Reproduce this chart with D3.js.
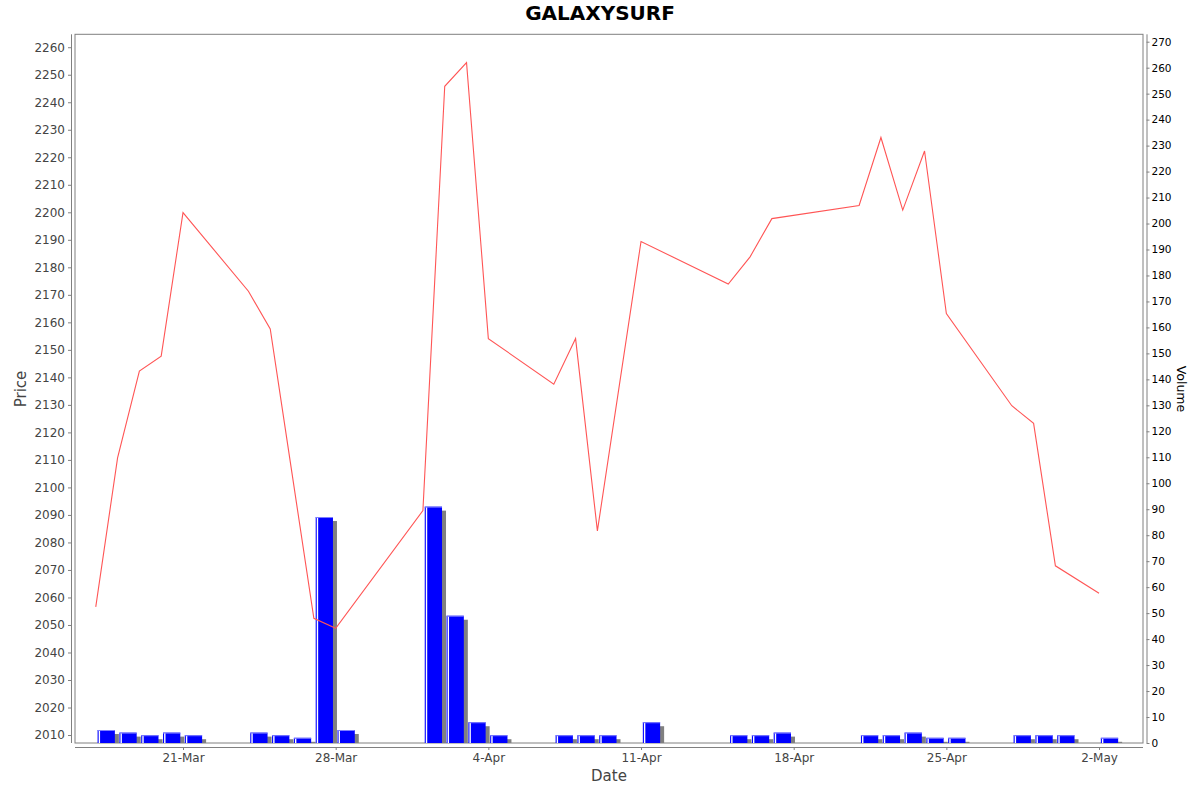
<!DOCTYPE html>
<html>
<head>
<meta charset="utf-8">
<script src="https://cdn.jsdelivr.net/npm/d3@7"></script>
<style>
body{margin:0;background:#fff;}
text{font-family:"DejaVu Sans",sans-serif;}
</style>
</head>
<body>
<div id="chart"></div>
<script>

// datos
const fechas = ["2025-03-17","2025-03-18","2025-03-19","2025-03-20","2025-03-21",
"2025-03-24","2025-03-25","2025-03-26","2025-03-27","2025-03-28",
"2025-04-01","2025-04-02","2025-04-03","2025-04-04",
"2025-04-07","2025-04-08","2025-04-09","2025-04-11",
"2025-04-15","2025-04-16","2025-04-17",
"2025-04-21","2025-04-22","2025-04-23","2025-04-24","2025-04-25",
"2025-04-28","2025-04-29","2025-04-30","2025-05-02"];

const precios = [2056.6,2110.7,2142.3,2147.7,2199.9,
2171.3,2157.6,2105.0,2052.4,2048.8,
2091.6,2245.8,2254.4,2154.1,
2137.5,2154.1,2084.2,2189.4,
2173.9,2183.8,2197.7,
2202.5,2227.2,2200.8,2222.3,2163.2,
2129.7,2123.3,2071.5,2061.5];

const volumenes = [5,4,3,4,3,
4,3,2,87,5,
91,49,8,3,
3,3,3,8,
3,3,4,
3,3,4,2,2,
3,3,3,2];

const ticksFecha = ["2025-03-21","2025-03-28","2025-04-04","2025-04-11","2025-04-18","2025-04-25","2025-05-02"];

const titulo = "GALAXYSURF";


const width = 1200;
const height = 792;

const izq = 75, der = 1143, arriba = 34.3, abajo = 743;

const parse = d3.utcParse("%Y-%m-%d");
const DIA = 864e5;

const datos = fechas.map((f,i)=>({
fecha: parse(f),
precio: precios[i],
volumen: volumenes[i]
}));

const svg = d3.select("#chart")
.append("svg")
.attr("width",width)
.attr("height",height);

const x = d3.scaleUtc()
.domain([
new Date(parse("2025-03-21").getTime() - 4.952*DIA),
new Date(parse("2025-03-21").getTime() + 44.016*DIA)
])
.range([izq,der]);

const yP = d3.scaleLinear()
.domain([2007.1,2264.7])
.range([abajo,arriba]);

const yV = d3.scaleLinear()
.domain([0,272.85])
.range([abajo,arriba]);

svg.append("clipPath")
.attr("id","clip")
.append("rect")
.attr("x",izq)
.attr("y",arriba)
.attr("width",der-izq)
.attr("height",abajo-arriba);

// borde del area
svg.append("rect")
.attr("x",izq)
.attr("y",arriba)
.attr("width",der-izq)
.attr("height",abajo-arriba)
.attr("fill","white")
.attr("stroke","#808080")
.attr("stroke-width",1);

const plot = svg.append("g").attr("clip-path","url(#clip)");

// BARRAS volumen
const bx = d=>x(new Date(d.fecha.getTime()+0.083*DIA));
const bw = d=>x(new Date(d.fecha.getTime()+0.876*DIA)) - bx(d);

// sombra
plot.selectAll(".sombra")
.data(datos)
.enter()
.append("rect")
.attr("x",d=>bx(d)+4)
.attr("y",d=>yV(d.volumen)+4)
.attr("width",bw)
.attr("height",d=>abajo-yV(d.volumen))
.attr("fill","#808080");

plot.selectAll(".barra")
.data(datos)
.enter()
.append("rect")
.attr("x",bx)
.attr("y",d=>yV(d.volumen))
.attr("width",bw)
.attr("height",d=>abajo-yV(d.volumen))
.attr("fill","#0000ff");

// brillo blanco
plot.selectAll(".brillo")
.data(datos)
.enter()
.append("line")
.attr("x1",d=>bx(d)+1.8)
.attr("x2",d=>bx(d)+1.8)
.attr("y1",d=>yV(d.volumen)+0.5)
.attr("y2",abajo)
.attr("stroke","white")
.attr("stroke-width",1.4);

plot.selectAll(".tope")
.data(datos)
.enter()
.append("line")
.attr("x1",d=>bx(d))
.attr("x2",d=>bx(d)+bw(d))
.attr("y1",d=>yV(d.volumen)+0.5)
.attr("y2",d=>yV(d.volumen)+0.5)
.attr("stroke","#7f7fff")
.attr("stroke-width",1);

// LINEA precio
const linea = d3.line()
.x(d=>x(d.fecha))
.y(d=>yP(d.precio));

plot.append("path")
.datum(datos)
.attr("d",linea)
.attr("fill","none")
.attr("stroke","#ff5555")
.attr("stroke-width",1.1);

// EJES
const ejeX = svg.append("g")
.attr("transform","translate(0,747)")
.call(
d3.axisBottom(x)
.tickValues(ticksFecha.map(parse))
.tickFormat(d3.utcFormat("%-d-%b"))
.tickSize(3)
.tickPadding(3)
);

ejeX.select(".domain").attr("d","M"+izq+",0.5H"+der).attr("stroke","#808080");

const ejeP = svg.append("g")
.attr("transform","translate(71,0)")
.call(
d3.axisLeft(yP)
.tickValues(d3.range(2010,2261,10))
.tickFormat(d3.format("d"))
.tickSize(3)
.tickPadding(3)
);

ejeP.select(".domain").attr("d","M0.5,"+arriba+"V"+abajo).attr("stroke","#808080");

const ejeV = svg.append("g")
.attr("transform","translate(1146.5,0)")
.call(
d3.axisRight(yV)
.tickValues(d3.range(0,271,10))
.tickFormat(d3.format("d"))
.tickSize(3)
.tickPadding(2)
);

ejeV.select(".domain").attr("d","M0.5,"+arriba+"V"+abajo).attr("stroke","#808080");

svg.selectAll(".tick line").attr("stroke","#808080");

ejeX.selectAll("text")
.style("font-size","12px")
.attr("fill","#444");

ejeP.selectAll("text")
.style("font-size","12px")
.attr("fill","#444");

ejeV.selectAll("text")
.style("font-size","10.5px")
.attr("fill","#000");

// TITULO
svg.append("text")
.attr("x",600)
.attr("y",20)
.attr("text-anchor","middle")
.style("font-size","20px")
.style("font-weight","bold")
.text(titulo);

// ETIQUETAS
svg.append("text")
.attr("x",609)
.attr("y",781)
.attr("text-anchor","middle")
.style("font-size","15px")
.attr("fill","#444")
.text("Date");

svg.append("text")
.attr("transform","rotate(-90)")
.attr("x",-389)
.attr("y",26)
.attr("text-anchor","middle")
.style("font-size","15px")
.attr("fill","#444")
.text("Price");

svg.append("text")
.attr("transform","rotate(90)")
.attr("x",389)
.attr("y",-1177)
.attr("text-anchor","middle")
.style("font-size","12.5px")
.attr("fill","#000")
.text("Volume");

</script>
</body>
</html>
